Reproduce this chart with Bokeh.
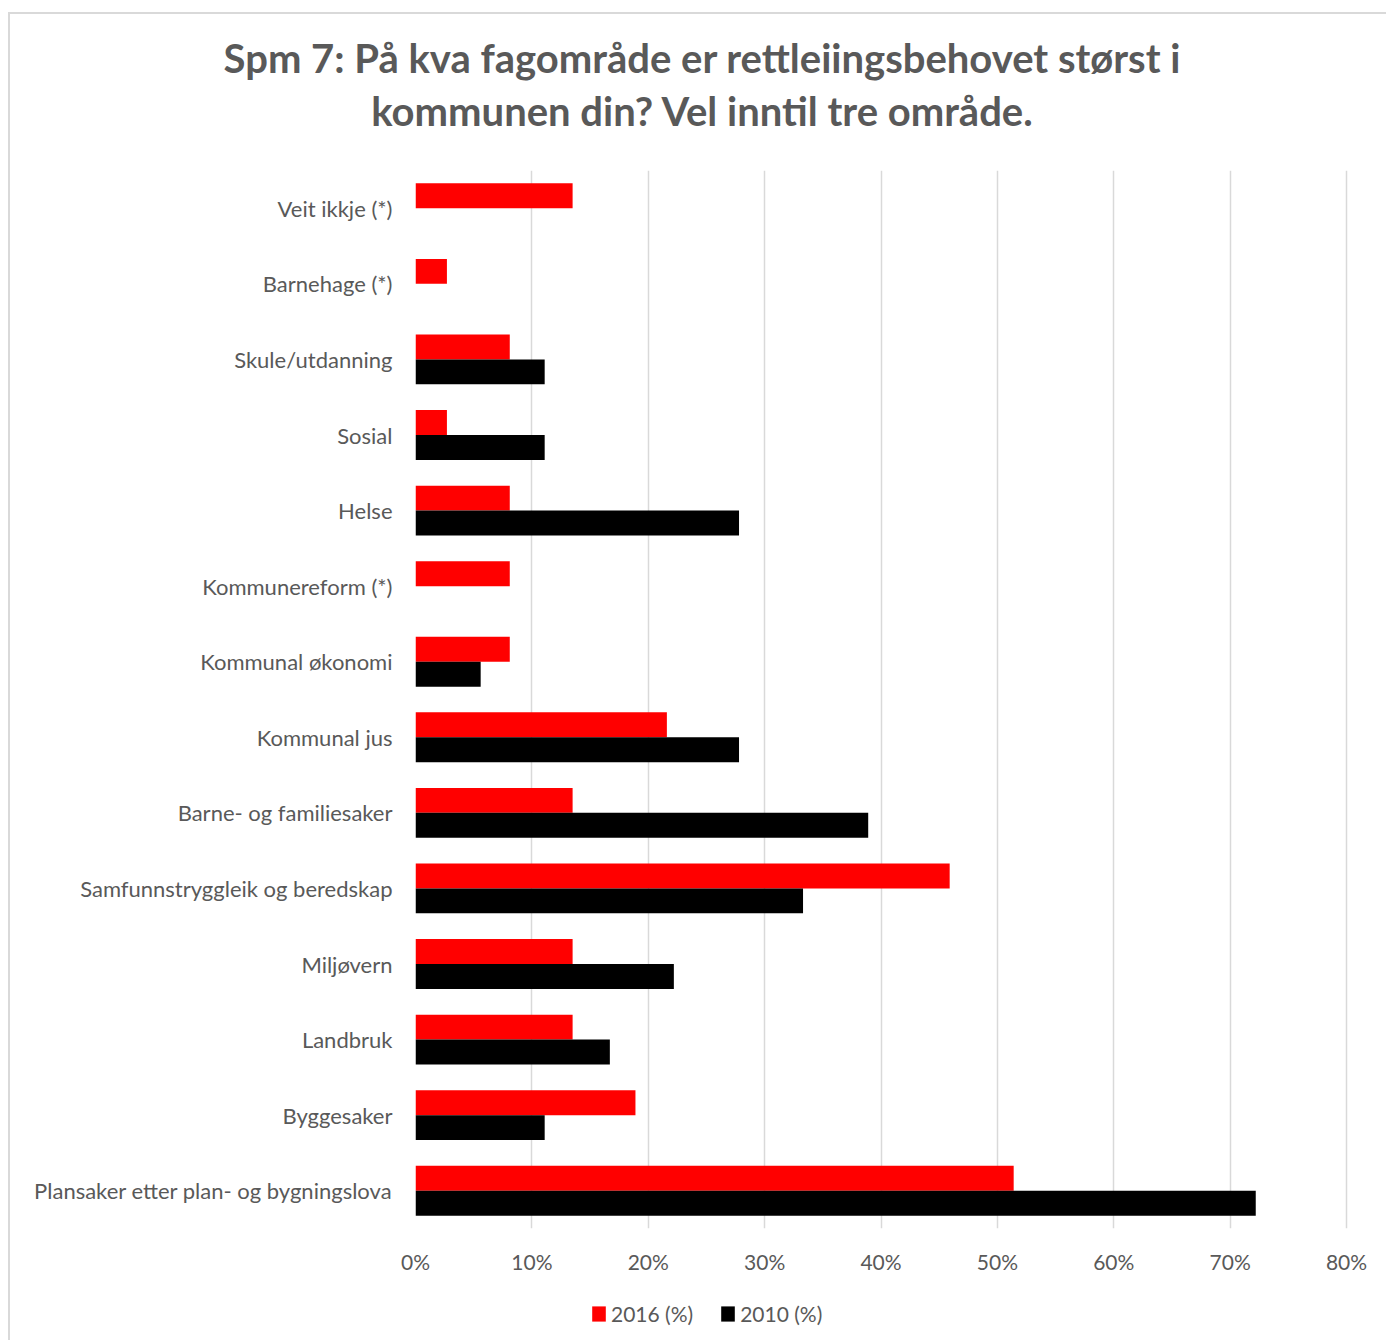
from bokeh.plotting import figure
from bokeh.models import ColumnDataSource, Legend, LegendItem, NumeralTickFormatter, FixedTicker, Div
from bokeh.layouts import column
from bokeh.transform import dodge
from bokeh.embed import file_html
from bokeh.resources import INLINE

categories = [
    "Veit ikkje (*)",
    "Barnehage (*)",
    "Skule/utdanning",
    "Sosial",
    "Helse",
    "Kommunereform (*)",
    "Kommunal økonomi",
    "Kommunal jus",
    "Barne- og familiesaker",
    "Samfunnstryggleik og beredskap",
    "Miljøvern",
    "Landbruk",
    "Byggesaker",
    "Plansaker etter plan- og bygningslova",
]
values_2016 = [0.135, 0.027, 0.081, 0.027, 0.081, 0.081, 0.081, 0.216, 0.135, 0.459, 0.135, 0.135, 0.189, 0.514]
values_2010 = [float("nan"), float("nan"), 0.111, 0.111, 0.278, float("nan"), 0.056, 0.278, 0.389, 0.333, 0.222, 0.167, 0.111, 0.722]
x_ticks = [0, 0.1, 0.2, 0.3, 0.4, 0.5, 0.6, 0.7, 0.8]
series_names = ["2016 (%)", "2010 (%)"]
title_lines = ["Spm 7: På kva fagområde er rettleiingsbehovet størst i",
               "kommunen din? Vel inntil tre område."]
colors = ["#ff0000", "#000000"]

TEXT = "#595959"
FONT = "Lato"
W = 1376

# ---- title ----
title = Div(
    text=("<div style=\"font-family: Lato; font-weight: bold; font-size: 40px; line-height: 53px; "
          "color: %s; text-align: center; width: %dpx; padding-top: 18px; padding-left: 8px; "
          "box-sizing: border-box;\">%s<br>%s</div>") % (TEXT, W, title_lines[0], title_lines[1]),
    width=W, height=146, margin=0,
)

# ---- main chart ----
src = ColumnDataSource(dict(cat=categories, v16=values_2016, v10=values_2010))

p = figure(
    width=W, height=1130,
    y_range=list(reversed(categories)),
    x_range=(0, 0.8017),
    output_backend="svg", toolbar_location=None,
    min_border_left=405, min_border_right=38, min_border_top=10, min_border_bottom=62,
)
p.outline_line_color = None

p.hbar(y=dodge("cat", 0.165, range=p.y_range), right="v16", left=0, height=0.33,
       source=src, fill_color=colors[0], line_color=None)
p.hbar(y=dodge("cat", -0.165, range=p.y_range), right="v10", left=0, height=0.33,
       source=src, fill_color=colors[1], line_color=None)

p.xaxis.ticker = FixedTicker(ticks=x_ticks)
p.xaxis.formatter = NumeralTickFormatter(format="0%")
for ax in (p.xaxis, p.yaxis):
    ax.axis_line_color = None
    ax.major_tick_line_color = None
    ax.minor_tick_line_color = None
    ax.major_label_text_color = TEXT
    ax.major_label_text_font = FONT
p.xaxis.major_label_text_font_size = "21px"
p.yaxis.major_label_text_font_size = "22px"
p.xaxis.major_label_standoff = 14
p.yaxis.major_label_standoff = 17

p.xgrid.grid_line_color = "#d9d9d9"
p.xgrid.grid_line_width = 1.5
p.ygrid.grid_line_color = None

# ---- legend strip (swatches only; their single bar lies outside the visible range) ----
lf = figure(width=W, height=50, x_range=(0, 1), y_range=(0, 1),
            output_backend="svg", toolbar_location=None,
            min_border_left=405, min_border_right=38, min_border_top=0, min_border_bottom=0)
lf.axis.visible = False
lf.grid.grid_line_color = None
lf.outline_line_color = None
k16 = lf.hbar(y=[-10], right=[0], left=0, height=0.5, fill_color=colors[0], line_color=None)
k10 = lf.hbar(y=[-10], right=[0], left=0, height=0.5, fill_color=colors[1], line_color=None)
legend = Legend(
    items=[LegendItem(label=series_names[0], renderers=[k16]),
           LegendItem(label=series_names[1], renderers=[k10])],
    orientation="horizontal", location=(175, 14), padding=5,
    label_text_font=FONT, label_text_font_size="21px", label_text_color=TEXT,
    glyph_width=17, glyph_height=19, label_standoff=4, spacing=26,
    border_line_color=None, background_fill_alpha=0,
)
lf.add_layout(legend, "center")

layout = column(title, p, lf, spacing=0)
layout.styles = {"margin-left": "8px", "margin-top": "12px",
                 "border-top": "2px solid #d9d9d9", "border-left": "2px solid #d9d9d9"}

open("out.html", "w").write(file_html(layout, INLINE))
